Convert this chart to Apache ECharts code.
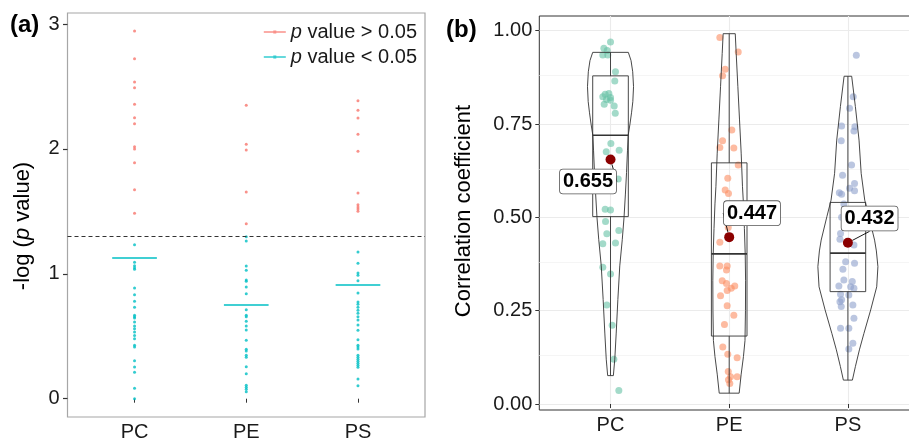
<!DOCTYPE html>
<html>
<head>
<meta charset="utf-8">
<script src="https://cdn.jsdelivr.net/npm/echarts@6/dist/echarts.min.js"></script>
<style>
html,body{margin:0;padding:0;background:#fff;}
#chart{width:909px;height:440px;}
</style>
</head>
<body>
<div id="chart"></div>
<script>
// ---------- DATA ----------
const categories = ['PC', 'PE', 'PS'];

// Panel (a): -log(p value)
const pcHigh = [2.944, 2.722, 2.535, 2.490, 2.357, 2.250, 2.202, 2.018, 2.000, 1.890, 1.673, 1.484];
const peHigh = [2.349, 2.037, 1.991, 1.655, 1.401];
const psHigh = [2.386, 2.309, 2.247, 2.117, 1.981, 1.647, 1.553, 1.535, 1.518, 1.500];
const pcLow = [1.233, 1.092, 1.065, 1.049, 1.036, 0.886, 0.833, 0.780, 0.732, 0.668, 0.657, 0.646, 0.614, 0.582, 0.560, 0.534, 0.507, 0.480, 0.427, 0.414, 0.304, 0.254, 0.211, 0.083, 0.000];
const peLow = [1.297, 1.263, 1.062, 1.028, 0.950, 0.940, 0.894, 0.841, 0.713, 0.668, 0.657, 0.620, 0.582, 0.550, 0.468, 0.396, 0.382, 0.348, 0.331, 0.256, 0.200, 0.107, 0.091, 0.075, 0.056];
const psLow = [1.175, 1.084, 1.006, 0.988, 0.945, 0.846, 0.774, 0.756, 0.732, 0.708, 0.684, 0.657, 0.630, 0.590, 0.548, 0.472, 0.428, 0.414, 0.398, 0.348, 0.331, 0.315, 0.299, 0.283, 0.267, 0.251, 0.158, 0.104];
const lowMeans = [1.126, 0.756, 0.910];
const pThreshold = 1.301; // -log10(0.05)
const yTicksA = [0, 1, 2, 3];

// Panel (b): correlation coefficients (value) and horizontal jitter (category units)
const pcCorr = [0.970, 0.953, 0.947, 0.935, 0.935, 0.890, 0.865, 0.830, 0.832, 0.823, 0.821, 0.816, 0.803, 0.814, 0.798, 0.779, 0.698, 0.680, 0.676, 0.603, 0.522, 0.520, 0.489, 0.465, 0.456, 0.429, 0.431, 0.366, 0.348, 0.265, 0.211, 0.120, 0.036];
const pcJit  = [0, -0.056, -0.028, -0.065, -0.023, 0.042, 0.036, -0.045, -0.014, -0.065, 0, -0.034, -0.053, 0, 0.031, 0.040, 0.003, 0.073, -0.036, 0.065, -0.045, 0, -0.042, 0.070, -0.031, -0.065, 0.042, -0.065, 0, -0.031, 0.014, 0.028, 0.070];
const peCorr = [0.982, 0.943, 0.897, 0.879, 0.734, 0.705, 0.687, 0.686, 0.640, 0.605, 0.573, 0.564, 0.473, 0.433, 0.370, 0.370, 0.359, 0.330, 0.323, 0.316, 0.310, 0.304, 0.290, 0.263, 0.238, 0.213, 0.153, 0.133, 0.124, 0.087, 0.073, 0.073, 0.055, 0.065];
const peJit  = [-0.079, 0.076, -0.034, -0.056, 0.022, -0.056, -0.079, 0.039, 0.076, -0.012, -0.034, -0.006, -0.008, -0.079, -0.079, -0.017, -0.023, -0.059, -0.023, 0.047, 0.017, -0.017, -0.073, -0.017, 0.039, -0.040, -0.054, -0.012, 0.067, -0.008, 0.011, 0.067, 0.005, -0.006];
const psCorr = [0.934, 0.823, 0.792, 0.745, 0.743, 0.731, 0.705, 0.640, 0.613, 0.591, 0.578, 0.571, 0.566, 0.562, 0.536, 0.500, 0.457, 0.441, 0.426, 0.381, 0.377, 0.361, 0.332, 0.328, 0.316, 0.314, 0.310, 0.294, 0.292, 0.279, 0.274, 0.265, 0.261, 0.230, 0.203, 0.203, 0.163, 0.147];
const psJit  = [0.071, 0.045, 0.014, -0.053, 0.059, 0.051, -0.056, 0.031, -0.045, 0.056, 0.014, 0.056, -0.072, -0.053, -0.034, -0.053, -0.062, -0.067, 0.051, -0.019, 0.056, -0.042, -0.034, 0.037, -0.076, 0.023, 0.051, -0.062, 0.008, -0.053, -0.067, 0.042, -0.056, 0.051, -0.062, 0.008, 0.042, 0.008];

// box stats: [min, Q1, median, Q3, max]
const boxPC = [0.076, 0.502, 0.720, 0.879, 0.942];
const boxPE = [0.029, 0.182, 0.402, 0.646, 0.992];
const boxPS = [0.064, 0.301, 0.404, 0.540, 0.878];

// violin outlines: [value, half-width in category units], bottom to top
const violinPC = [[0.076,0.024],[0.12,0.036],[0.19,0.048],[0.28,0.062],[0.37,0.078],[0.44,0.099],[0.50,0.114],[0.56,0.125],[0.62,0.135],[0.68,0.143],[0.72,0.149],[0.75,0.164],[0.78,0.177],[0.81,0.188],[0.85,0.194],[0.89,0.187],[0.92,0.173],[0.942,0.150]];
const violinPE = [[0.029,0.084],[0.08,0.101],[0.127,0.120],[0.17,0.133],[0.25,0.137],[0.33,0.138],[0.40,0.135],[0.47,0.128],[0.536,0.120],[0.582,0.112],[0.672,0.101],[0.761,0.087],[0.85,0.073],[0.939,0.059],[0.992,0.051]];
const violinPS = [[0.064,0.038],[0.10,0.063],[0.145,0.097],[0.189,0.135],[0.252,0.192],[0.314,0.243],[0.368,0.253],[0.41,0.240],[0.439,0.225],[0.502,0.177],[0.546,0.142],[0.618,0.112],[0.707,0.094],[0.797,0.063],[0.878,0.032]];

const meanCorr = [0.655, 0.447, 0.432];
const yTicksB = [0, 0.25, 0.5, 0.75, 1];
const yMinorB = [0.125, 0.375, 0.625, 0.875];

// ---------- BUILD ----------
const FONT = "'Liberation Sans', Arial, Helvetica, sans-serif";
const TXT = '#1a1a1a';
const toPts = (arr, c) => arr.map(v => [c, v]);
const toJit = (vals, jit, c) => vals.map((v, i) => [c + jit[i], v]);
const violins = [violinPC, violinPE, violinPS];
const boxes = [boxPC, boxPE, boxPS];
const setColors = ['#66C2A5', '#FC8D62', '#8DA0CB'];

const chart = echarts.init(document.getElementById('chart'));

const xAxisBase = (gi) => ({
  gridIndex: gi, type: 'value', min: 0.4, max: 3.6,
  axisLine: {show: false}, splitLine: {show: false},
  axisTick: {show: true, customValues: [1, 2, 3], length: 4, lineStyle: {color: '#333', width: 1}},
  axisLabel: {customValues: [1, 2, 3], formatter: v => categories[Math.round(v) - 1], fontSize: 20, fontFamily: FONT, color: TXT, margin: 5}
});

const gridLineItems = [];
yTicksB.forEach(v => gridLineItems.push({yAxis: v, lineStyle: {color: '#EBEBEB', width: 1.1, type: 'solid'}}));
yMinorB.forEach(v => gridLineItems.push({yAxis: v, lineStyle: {color: '#F3F3F3', width: 0.8, type: 'solid'}}));
[1, 2, 3].forEach(v => gridLineItems.push({xAxis: v, lineStyle: {color: '#EBEBEB', width: 1.1, type: 'solid'}}));

const labelOffsets = [[-22.5, 22], [22.8, -24], [21.7, -24.2]];

const option = {
  animation: false,
  textStyle: {fontFamily: FONT},
  grid: [
    {left: 67.5, top: 13, right: 484, bottom: 23, show: true, borderColor: '#A6A6A6', borderWidth: 1.2, containLabel: false, outerBoundsMode: 'none'},
    {left: 539.3, top: 16, right: -10.1, bottom: 30, show: true, borderColor: '#333333', borderWidth: 1, containLabel: false, outerBoundsMode: 'none'}
  ],
  xAxis: [xAxisBase(0), xAxisBase(1)],
  yAxis: [
    {gridIndex: 0, type: 'value', min: -0.1465, max: 3.088,
     axisLine: {show: false}, splitLine: {show: false},
     axisTick: {show: true, customValues: yTicksA, length: 4.5, lineStyle: {color: '#333', width: 1.2}},
     axisLabel: {customValues: yTicksA, fontSize: 20, fontFamily: FONT, color: TXT, margin: 8}},
    {gridIndex: 1, type: 'value', min: -0.0161, max: 1.0394,
     axisLine: {show: false}, splitLine: {show: false},
     axisTick: {show: true, customValues: yTicksB, length: 4, lineStyle: {color: '#333', width: 1}},
     axisLabel: {customValues: yTicksB, formatter: v => v.toFixed(2), fontSize: 20, fontFamily: FONT, color: TXT, margin: 7}}
  ],
  legend: {
    data: ['p value > 0.05', 'p value < 0.05'],
    orient: 'vertical', right: 492, top: 22, align: 'left', padding: 0,
    itemWidth: 22, itemHeight: 3, itemGap: 5,
    icon: 'path://M0,2.3H22V3.7H0Z M9.5,1.5H12.5V4.5H9.5Z',
    formatter: name => '{i|p}' + name.slice(1),
    textStyle: {fontSize: 20, fontFamily: FONT, color: TXT, rich: {i: {fontStyle: 'italic', fontSize: 20, fontFamily: FONT, color: TXT}}}
  },
  graphic: [
    {type: 'text', x: 10, y: 25, style: {text: '(a)', font: 'bold 24px ' + FONT, fill: '#000', align: 'left', verticalAlign: 'middle', textAlign: 'left', textVerticalAlign: 'middle'}},
    {type: 'text', x: 446, y: 30, style: {text: '(b)', font: 'bold 24px ' + FONT, fill: '#000', align: 'left', verticalAlign: 'middle', textAlign: 'left', textVerticalAlign: 'middle'}},
    {type: 'text', x: 23, y: 226, rotation: Math.PI / 2,
     style: {text: '-log ({i|p} value)', font: '22px ' + FONT, fontSize: 22, fontFamily: FONT, fill: '#000', align: 'center', verticalAlign: 'middle', textAlign: 'center', textVerticalAlign: 'middle',
             rich: {i: {fontStyle: 'italic', fontSize: 22, fontFamily: FONT, fill: '#000', color: '#000'}}}},
    {type: 'text', x: 464, y: 211, rotation: Math.PI / 2,
     style: {text: 'Correlation coefficient', font: '22px ' + FONT, fill: '#000', align: 'center', verticalAlign: 'middle', textAlign: 'center', textVerticalAlign: 'middle'}}
  ],
  series: [
    // ----- panel (a) -----
    {name: 'p value > 0.05', type: 'scatter', xAxisIndex: 0, yAxisIndex: 0,
     symbol: 'circle', symbolSize: 3, itemStyle: {color: '#F8766D'},
     data: toPts(pcHigh, 1).concat(toPts(peHigh, 2), toPts(psHigh, 3)),
     markLine: {silent: true, symbol: ['none', 'none'], label: {show: false},
       lineStyle: {color: '#333', width: 1, type: [4, 3]},
       data: [{yAxis: pThreshold}]}},
    {name: 'p value < 0.05', type: 'scatter', xAxisIndex: 0, yAxisIndex: 0,
     symbol: 'circle', symbolSize: 3, itemStyle: {color: '#00BFC4'},
     data: toPts(pcLow, 1).concat(toPts(peLow, 2), toPts(psLow, 3)),
     markLine: {silent: true, symbol: ['none', 'none'], label: {show: false},
       lineStyle: {color: '#00BFC4', width: 1.5, type: 'solid'},
       data: lowMeans.map((m, i) => [{coord: [i + 0.8, m]}, {coord: [i + 1.2, m]}])}},
    // ----- panel (b) -----
    {name: 'grid-b', type: 'scatter', xAxisIndex: 1, yAxisIndex: 1, symbolSize: 0, z: 0,
     itemStyle: {opacity: 0}, data: [[2, 0.5]],
     markLine: {silent: true, z: 0, symbol: ['none', 'none'], label: {show: false}, data: gridLineItems}},
    {name: 'PC', type: 'scatter', xAxisIndex: 1, yAxisIndex: 1, symbolSize: 7, z: 2,
     itemStyle: {color: setColors[0], opacity: 0.6}, data: toJit(pcCorr, pcJit, 1)},
    {name: 'PE', type: 'scatter', xAxisIndex: 1, yAxisIndex: 1, symbolSize: 7, z: 2,
     itemStyle: {color: setColors[1], opacity: 0.6}, data: toJit(peCorr, peJit, 2)},
    {name: 'PS', type: 'scatter', xAxisIndex: 1, yAxisIndex: 1, symbolSize: 7, z: 2,
     itemStyle: {color: setColors[2], opacity: 0.6}, data: toJit(psCorr, psJit, 3)},
    {name: 'violin', type: 'custom', xAxisIndex: 1, yAxisIndex: 1, z: 3, silent: true, clip: false,
     data: [[1, 0.5], [2, 0.5], [3, 0.5]], encode: {x: 0, y: 1},
     renderItem: (params, api) => {
       const prof = violins[params.dataIndex];
       const c = api.value(0);
       const left = prof.map(p => api.coord([c - p[1], p[0]]));
       const right = prof.slice().reverse().map(p => api.coord([c + p[1], p[0]]));
       return {type: 'polygon', shape: {points: left.concat(right)}, style: {fill: 'transparent', stroke: '#333', lineWidth: 0.9}};
     }},
    {name: 'box', type: 'custom', xAxisIndex: 1, yAxisIndex: 1, z: 3, silent: true, clip: false,
     data: [[1, 0.5], [2, 0.5], [3, 0.5]], encode: {x: 0, y: 1},
     renderItem: (params, api) => {
       const b = boxes[params.dataIndex];
       const c = api.value(0);
       const hw = 0.15;
       const tl = api.coord([c - hw, b[3]]);
       const br = api.coord([c + hw, b[1]]);
       const m1 = api.coord([c - hw, b[2]]), m2 = api.coord([c + hw, b[2]]);
       const w0 = api.coord([c, b[0]]), w1 = api.coord([c, b[1]]), w3 = api.coord([c, b[3]]), w4 = api.coord([c, b[4]]);
       const st = {stroke: '#333', lineWidth: 0.9, fill: 'transparent'};
       return {type: 'group', children: [
         {type: 'rect', shape: {x: tl[0], y: tl[1], width: br[0] - tl[0], height: br[1] - tl[1]}, style: st},
         {type: 'line', shape: {x1: m1[0], y1: m1[1], x2: m2[0], y2: m2[1]}, style: {stroke: '#333', lineWidth: 1.7}},
         {type: 'line', shape: {x1: w0[0], y1: w0[1], x2: w1[0], y2: w1[1]}, style: st},
         {type: 'line', shape: {x1: w3[0], y1: w3[1], x2: w4[0], y2: w4[1]}, style: st}
       ]};
     }},
    {name: 'mean', type: 'scatter', xAxisIndex: 1, yAxisIndex: 1, z: 5,
     symbol: 'circle', symbolSize: 10, itemStyle: {color: '#8B0000', opacity: 1},
     data: meanCorr.map((m, i) => [i + 1, m]),
     label: {show: true, position: 'inside', formatter: p => p.value[1].toFixed(3),
       fontSize: 20, fontWeight: 'bold', fontFamily: FONT, color: '#000',
       backgroundColor: '#fff', borderColor: '#555', borderWidth: 0.8, borderRadius: 3, padding: [2, 3], lineHeight: 20},
     labelLayout: params => ({dx: labelOffsets[params.dataIndex][0], dy: labelOffsets[params.dataIndex][1]}),
     labelLine: {show: true, lineStyle: {color: '#000', width: 0.9}}}
  ]
};
chart.setOption(option);
</script>
</body>
</html>
